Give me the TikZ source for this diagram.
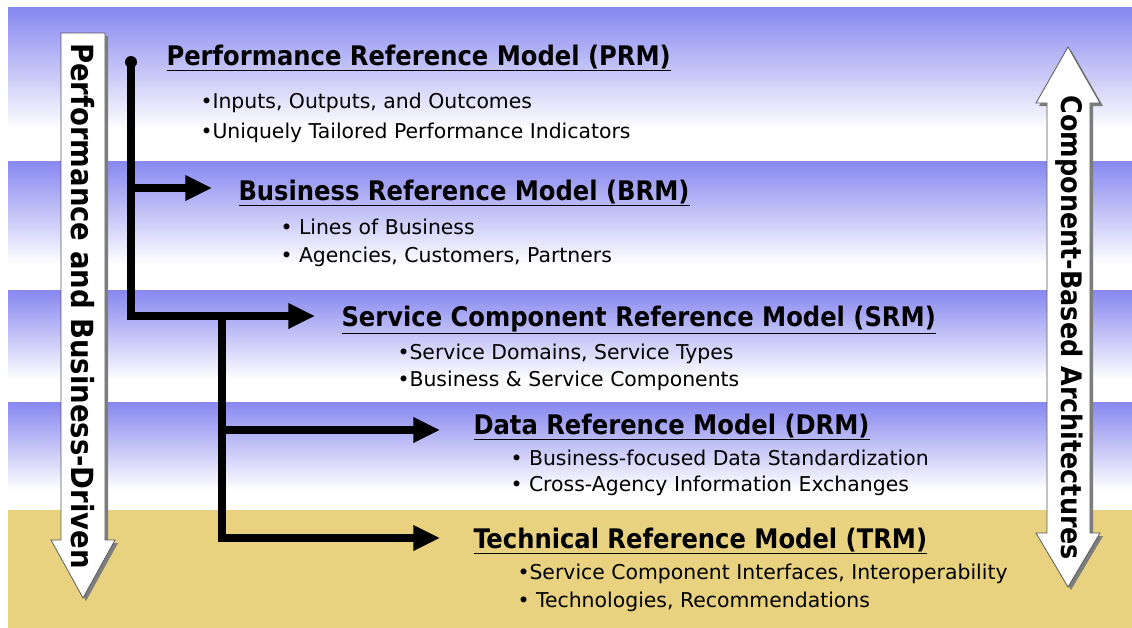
\documentclass[tikz,border=0pt]{standalone}
\usepackage{fontspec}
\setmainfont{DejaVu Sans Condensed}
\newfontfamily\listfont{DejaVu Sans}
\usetikzlibrary{arrows.meta,positioning}
\definecolor{bandblue}{RGB}{135,135,240}
\definecolor{bandtan}{RGB}{232,210,128}
\definecolor{arrowshadow}{RGB}{125,125,125}
\definecolor{arrowedge}{RGB}{90,90,90}

\tikzset{every picture/.style={line width=0.75pt}}
\tikzset{
  heading/.style={anchor=base west, inner sep=0.75pt, font=\fontsize{20.2}{24}\selectfont\bfseries},
  bullet/.style={anchor=base west, inner sep=0.75pt, font=\listfont\fontsize{15.3}{18}\selectfont},
  sidetext/.style={inner sep=0pt, font=\fontsize{22.9}{26}\selectfont\bfseries},
  bus/.style={line width=5.5pt, line join=miter},
  busarrow/.style={bus, -{Triangle[length=20pt,width=18pt]}},
  blockarrow/.style={fill=white, draw=arrowedge, line width=0.6pt},
  blockshadow/.style={fill=arrowshadow},
}

\begin{document}
\begin{tikzpicture}[x=0.75pt,y=0.75pt,yscale=-1,xscale=1]
\useasboundingbox (0,0) rectangle (1132,628);

%Bands
\shade[top color=bandblue, bottom color=white] (8,7) rectangle (1132,130);
\fill[white] (8,130) rectangle (1132,161);
\shade[top color=bandblue, bottom color=white] (8,161) rectangle (1132,265);
\fill[white] (8,265) rectangle (1132,290);
\shade[top color=bandblue, bottom color=white] (8,290) rectangle (1132,380);
\fill[white] (8,380) rectangle (1132,402);
\shade[top color=bandblue, bottom color=white] (8,402) rectangle (1132,490);
\fill[white] (8,490) rectangle (1132,510);
\fill[bandtan] (8,510) rectangle (1132,628);

%Shape: Block Arrow (down)
\fill[blockshadow] (64,36) -- (108,36) -- (108,543) -- (118,543) -- (86,601) -- (54,543) -- (64,543) -- cycle ;
\draw[blockarrow] (61,33) -- (105,33) -- (105,540) -- (115,540) -- (83,598) -- (51,540) -- (61,540) -- cycle ;
%Shape: Block Arrow (up and down)
\fill[blockshadow] (1071,50) -- (1103,106) -- (1093,106) -- (1093,536) -- (1103,536) -- (1071,590) -- (1039,536) -- (1050,536) -- (1050,106) -- (1039,106) -- cycle ;
\draw[blockarrow] (1068,47) -- (1100,103) -- (1090,103) -- (1090,533) -- (1100,533) -- (1068,587) -- (1036,533) -- (1047,533) -- (1047,103) -- (1036,103) -- cycle ;

% Text Node
\node[sidetext, rotate=-90] (drivenlabel) at (83,306) {Performance and Business-Driven};
% Text Node
\node[sidetext, rotate=-90, font=\fontsize{21.2}{25}\selectfont\bfseries] (cbalabel) at (1069,328) {Component-Based Architectures};

% Headings
\node[heading] (prm) at (165,65) {\underline{Performance Reference Model (PRM)}};
\node[heading] (brm) at (237,200) {\underline{Business Reference Model (BRM)}};
\node[heading] (srm) at (340,326) {\underline{Service Component Reference Model (SRM)}};
\node[heading] (drm) at (472,434) {\underline{Data Reference Model (DRM)}};
\node[heading] (trm) at (472,548) {\underline{Technical Reference Model (TRM)}};

% Bullets
\node[bullet] (prma) at (199,108) {•Inputs, Outputs, and Outcomes};
\node[bullet] (prmb) at (199,138) {•Uniquely Tailored Performance Indicators};
\node[bullet] (brma) at (279,234) {• Lines of Business};
\node[bullet] (brmb) at (279,262) {• Agencies, Customers, Partners};
\node[bullet] (srma) at (396,359) {•Service Domains, Service Types};
\node[bullet] (srmb) at (396,386) {•Business \& Service Components};
\node[bullet] (drma) at (509,465) {• Business-focused Data Standardization};
\node[bullet] (drmb) at (509,491) {• Cross-Agency Information Exchanges};
\node[bullet] (trma) at (516,579) {•Service Component Interfaces, Interoperability};
\node[bullet] (trmb) at (516,607) {• Technologies, Recommendations};

% Bus
\coordinate (bustop) at (131,62);
\coordinate (busb) at (131,188);
\coordinate (buss) at (131,316);
\coordinate (subs) at (222,316);
\coordinate (subd) at (222,430);
\coordinate (subt) at (222,538);

\fill (bustop) circle (4.5pt);
\draw[busarrow, shorten >=18.75pt] (bustop) -- (buss) -- (buss -| srm.west);
\draw[busarrow, shorten >=18.75pt] (busb) -- (busb -| brm.west);
\draw[busarrow, shorten >=24pt] (subs) -- (subt) -- (subt -| trm.west);
\draw[busarrow, shorten >=24pt] (subd) -- (subd -| drm.west);

\end{tikzpicture}
\end{document}
